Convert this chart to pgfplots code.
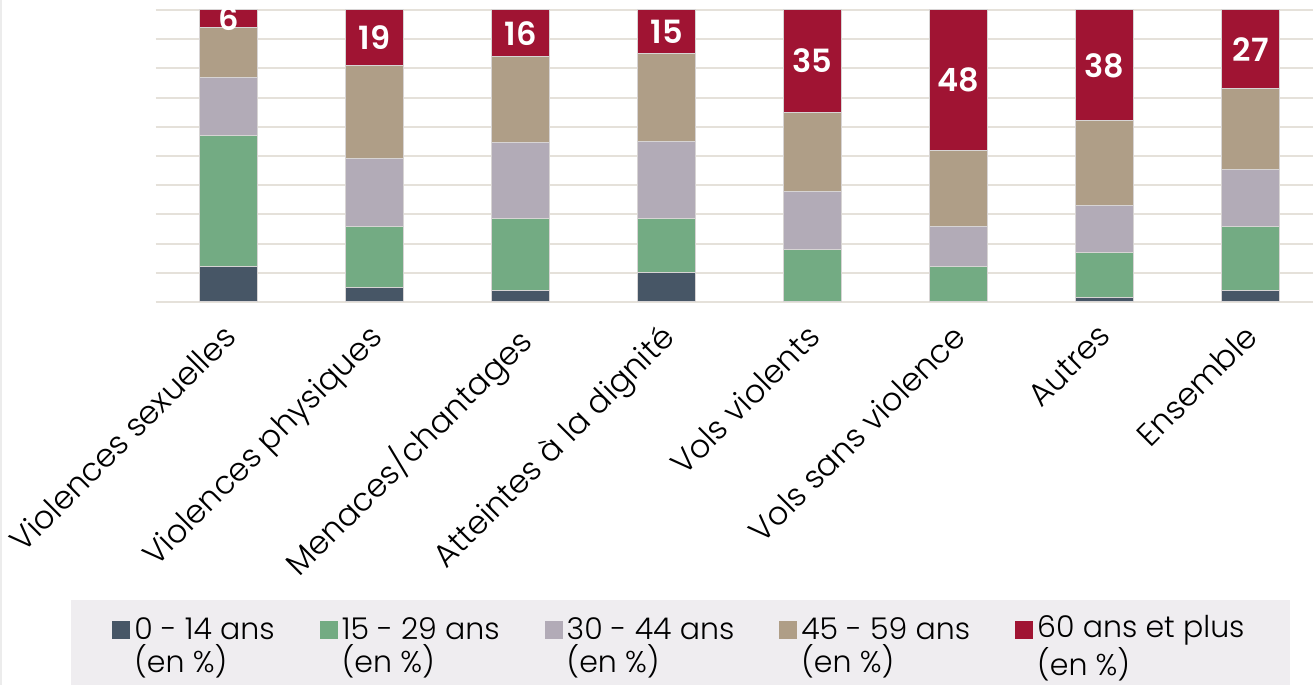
\documentclass[border=0pt]{standalone}
\usepackage{fontspec}
\IfFontExistsTF{Poppins Light}{%
  \IfFontExistsTF{Poppins SemiBold}{\setmainfont{Poppins Light}[BoldFont={Poppins SemiBold}]}{\setmainfont{Poppins Light}[BoldFont={Poppins}]}%
}{\setmainfont{Poppins}}
\usepackage{pgfplots}
\usepackage{pgfplotstable}
\pgfplotsset{compat=1.18}
\definecolor{cA}{RGB}{71,86,102}
\definecolor{cB}{RGB}{115,171,131}
\definecolor{cC}{RGB}{178,171,183}
\definecolor{cD}{RGB}{175,158,135}
\definecolor{cE}{RGB}{160,20,51}
\definecolor{gridc}{RGB}{229,225,218}
\definecolor{legc}{RGB}{239,237,240}
\definecolor{edgec}{RGB}{215,212,212}

\pgfplotstableread{
x v
0 12
1 5
2 4
3 10
4 0
5 0
6 1.5
7 4
}\tA
\pgfplotstableread{
x v
0 45
1 21
2 24.5
3 18.5
4 18
5 12
6 15.5
7 22
}\tB
\pgfplotstableread{
x v
0 20
1 23
2 26
3 26.5
4 20
5 14
6 16
7 19.5
}\tC
\pgfplotstableread{
x v
0 17
1 32
2 29.5
3 30
4 27
5 26
6 29
7 27.5
}\tD
\pgfplotstableread{
x v
0 6
1 19
2 16
3 15
4 35
5 48
6 38
7 27
}\tE

\begin{document}
\begin{tikzpicture}
\path[use as bounding box] (0,0) rectangle (656.5pt,342.5pt);
\draw[line width=1.2pt, color={rgb,255:red,236;green,236;blue,236}] (0.6pt,0pt) -- (0.6pt,342.5pt);
\begin{axis}[
  at={(77.85pt,191.5pt)}, anchor=south west,
  scale only axis, width=578.65pt, height=146pt,
  ybar stacked, bar width=29pt,
  xmin=-0.5, xmax=7.427, ymin=0, ymax=100,
  xtick={0,...,7},
  xticklabels={Violences sexuelles, Violences physiques, Menaces/chantages, Atteintes à la dignité, Vols violents, Vols sans violence, Autres, Ensemble},
  ytick={0,10,...,100}, yticklabels={},
  major tick length=0pt,
  ymajorgrids, grid style={line width=1pt, gridc},
  axis line style={draw=none},
  /pgf/number format/assume math mode=true,
  xticklabel style={rotate=45, anchor=north east, inner sep=0pt, font=\fontsize{16}{19}\selectfont, xshift=-9.8pt, yshift=-4.2pt},
  legend columns=5, legend cell align=left,
  legend image code/.code={\fill[#1,draw=none] (0pt,3.75pt) rectangle (9pt,12.75pt); \path[draw=none,fill=none] (0pt,-12.75pt) -- (9pt,-12.75pt);},
  legend style={at={(-0.0732,-1.0205)}, anchor=north west, fill=legc, draw=none,
    font=\fontsize{15}{16.5}\selectfont, inner xsep=20.5pt, inner ysep=5.5pt,
    nodes={align=left},
    /tikz/every even column/.append style={column sep=20.5pt}},
]
\addplot[fill=cA, draw=edgec, line width=0.5pt] table[x=x,y=v]{\tA};
\addlegendentry{0 - 14 ans\\(en \%)}
\addplot[fill=cB, draw=edgec, line width=0.5pt] table[x=x,y=v]{\tB};
\addlegendentry{15 - 29 ans\\(en \%)}
\addplot[fill=cC, draw=edgec, line width=0.5pt] table[x=x,y=v]{\tC};
\addlegendentry{30 - 44 ans\\(en \%)}
\addplot[fill=cD, draw=edgec, line width=0.5pt] table[x=x,y=v]{\tD};
\addlegendentry{45 - 59 ans\\(en \%)}
\addplot[fill=cE, draw=edgec, line width=0.5pt,
  point meta=explicit,
  nodes near coords,
  nodes near coords align=center,
  every node near coord/.append style={font=\bfseries\fontsize{16}{16}\selectfont, text=white}
] table[x=x,y=v,meta=v]{\tE};
\addlegendentry{60 ans et plus\\(en \%)}
\end{axis}
\end{tikzpicture}
\end{document}
